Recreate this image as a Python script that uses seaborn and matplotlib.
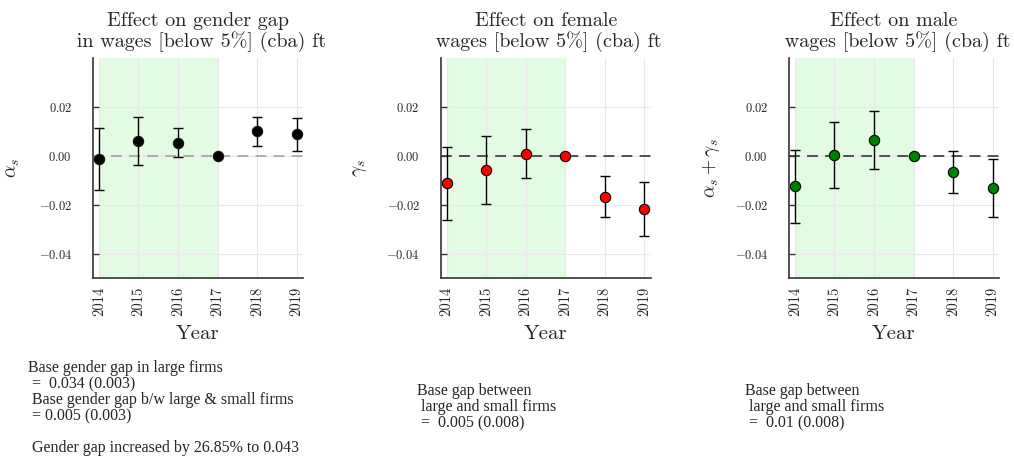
import numpy as np
import pandas as pd
import matplotlib
matplotlib.use("Agg")
import matplotlib.pyplot as plt
import seaborn as sns

# ---- data ----
years = [2014, 2015, 2016, 2017, 2018, 2019]

alpha_est = [-0.0015, 0.0061, 0.0053, 0.0, 0.0101, 0.0088]
alpha_lo = [-0.0138, -0.0039, -0.0005, 0.0, 0.0041, 0.0018]
alpha_hi = [0.0112, 0.0160, 0.0114, 0.0, 0.0159, 0.0156]

gamma_est = [-0.0113, -0.0059, 0.0008, 0.0, -0.0168, -0.0218]
gamma_lo = [-0.0261, -0.0199, -0.0090, 0.0, -0.0252, -0.0328]
gamma_hi = [0.0036, 0.0082, 0.0108, 0.0, -0.0082, -0.0109]

sum_est = [-0.0124, 0.0003, 0.0064, 0.0, -0.0067, -0.0131]
sum_lo = [-0.0273, -0.0131, -0.0056, 0.0, -0.0154, -0.0251]
sum_hi = [0.0023, 0.0137, 0.0183, 0.0, 0.0019, -0.0012]

titles = ["Effect on gender gap\n in wages [below 5%] (cba) ft",
          "Effect on female\n wages [below 5%] (cba) ft",
          "Effect on male\n wages [below 5%] (cba) ft"]
ylabels = [r"$\alpha_s$", r"$\gamma_s$", r"$\alpha_s + \gamma_s$"]
yticks = [-0.04, -0.02, 0.0, 0.02]

notes = ["Base gender gap in large firms\n =  0.034 (0.003)\n Base gender gap b/w large & small firms\n = 0.005 (0.003)\n\n Gender gap increased by 26.85% to 0.043",
         "Base gap between\n large and small firms\n =  0.005 (0.008)",
         "Base gap between\n large and small firms\n =  0.01 (0.008)"]

sns.set_style("white")
plt.rcParams["font.family"] = "serif"
plt.rcParams["font.serif"] = ["cmr10", "DejaVu Serif"]
plt.rcParams["mathtext.fontset"] = "cm"
plt.rcParams["axes.formatter.use_mathtext"] = True

fig = plt.figure(figsize=(10.14, 4.58), dpi=100)

lefts = [93, 440.7, 789]
W, H = 1014, 458
ax_w = 210
ax_top, ax_bot = 58, 278

series = [(alpha_est, alpha_lo, alpha_hi, "black", "#a8a8a8"),
          (gamma_est, gamma_lo, gamma_hi, "red", "#444444"),
          (sum_est, sum_lo, sum_hi, "green", "#444444")]

note_pos = [(28, 360), (417, 383), (745, 383)]
ylab_x = [22, 369, 722]

for i, (est, lo, hi, col, zcol) in enumerate(series):
    ax = fig.add_axes([lefts[i] / W, (H - ax_bot) / H, ax_w / W, (ax_bot - ax_top) / H])
    df = pd.DataFrame({"Year": years, "est": est, "lo": lo, "hi": hi})
    ax.axvspan(2014, 2017, color="#e3fae3", zorder=0, lw=0)
    ax.axhline(0, color=zcol, ls=(0, (6, 4)), lw=1.3, zorder=2)
    has_err = df["hi"] != df["lo"]
    d2 = df[has_err]
    ax.errorbar(d2["Year"], d2["est"],
                yerr=[d2["est"] - d2["lo"], d2["hi"] - d2["est"]],
                fmt="none", ecolor="black", elinewidth=1.0, capsize=3.8, capthick=1.0, zorder=3)
    sns.scatterplot(data=df, x="Year", y="est", ax=ax, color=col, s=55,
                    edgecolor="black" if col != "black" else "#0a1a0a", linewidth=0.8, zorder=4, legend=False)
    ax.set_xlim(2013.85, 2019.16)
    ax.set_ylim(-0.05, 0.04)
    ax.set_xticks(years)
    ax.set_xticklabels([str(y) for y in years], rotation=90, fontsize=10.5)
    ax.set_yticks(yticks)
    ax.set_yticklabels([f"${v:.2f}$" if v != 0 else "$0.00$" for v in yticks], fontsize=9)
    ax.grid(True, color="#e8e8e8", lw=0.8, zorder=1)
    ax.set_axisbelow(True)
    for s in ["top", "right"]:
        ax.spines[s].set_visible(False)
    for s in ["left", "bottom"]:
        ax.spines[s].set_color("#333333")
        ax.spines[s].set_linewidth(1.2)
    ax.tick_params(axis="y", direction="in", length=4, width=1, color="#333333", left=True, pad=15)
    ax.tick_params(axis="x", direction="in", length=0, pad=6, bottom=True)
    ax.set_xlabel("Year", fontsize=15, labelpad=7)
    ax.set_ylabel(ylabels[i], fontsize=14)
    ax.yaxis.set_label_coords((ylab_x[i] - lefts[i]) / ax_w, 0.5)
    ax.set_title(titles[i], fontsize=14.5, pad=8, linespacing=1.1)
    x0, y0 = note_pos[i]
    fig.text(x0 / W, 1 - y0 / H, notes[i], ha="left", va="top", fontsize=11.5,
             family="Liberation Serif", linespacing=1.0)

fig.savefig("out.png", dpi=100)
